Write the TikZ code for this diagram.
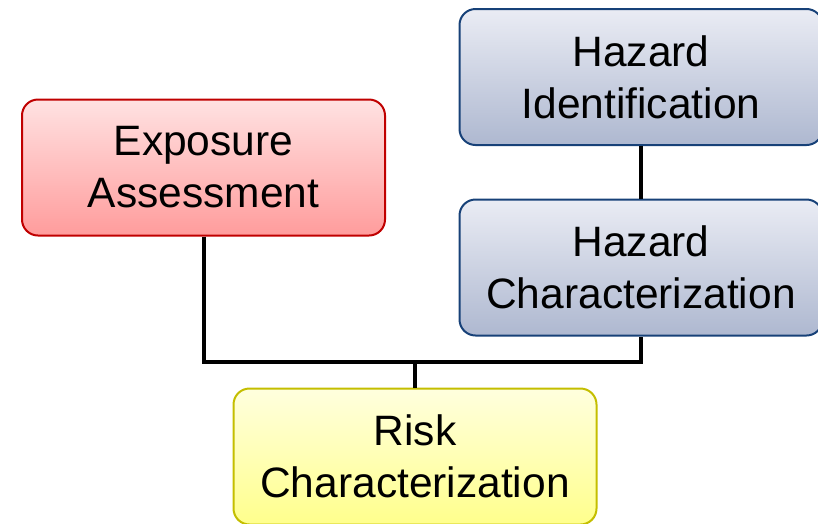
\documentclass[tikz,border=0pt]{standalone}
\usepackage{fontspec}
\setmainfont{Liberation Sans}
\usepackage{tikz}
\usetikzlibrary{calc}

\definecolor{expoline}{RGB}{192,0,0}
\definecolor{expotop}{RGB}{255,226,226}
\definecolor{expobot}{RGB}{255,156,156}
\definecolor{hazline}{RGB}{23,65,120}
\definecolor{haztop}{RGB}{234,236,244}
\definecolor{hazbot}{RGB}{174,184,208}
\definecolor{riskline}{RGB}{196,190,0}
\definecolor{risktop}{RGB}{255,255,222}
\definecolor{riskbot}{RGB}{255,255,140}

\tikzset{
	stagebox/.style={draw, line width=2pt, rounded corners=16pt, align=center,
		minimum width=363pt, minimum height=136pt, inner sep=0pt,
		font=\fontsize{42.5}{52}\selectfont},
	expobox/.style={stagebox, draw=expoline, top color=expotop, bottom color=expobot},
	hazbox/.style={stagebox, draw=hazline, top color=haztop, bottom color=hazbot},
	riskbox/.style={stagebox, draw=riskline, top color=risktop, bottom color=riskbot},
	link/.style={line width=4pt}
}

\begin{document}
\begin{tikzpicture}[x=1pt, y=-1pt]
		%%%%% START %%%%%
		
		\path[use as bounding box, clip] (0, 0) rectangle (818, 523);
		
		\node[expobox] (expo) at (203.5, 167.5) {Exposure\\Assessment};
		\node[hazbox] (hid) at (641, 77) {Hazard\\Identification};
		\node[hazbox] (hchar) at (641, 267.5) {Hazard\\Characterization};
		\node[riskbox] (risk) at (415, 456.5) {Risk\\Characterization};
		
		\coordinate (bus) at (415, 362);
		
		\draw[link] (hid.south) -- (hchar.north);
		\draw[link] (expo.south) |- (bus) -| (hchar.south);
		\draw[link] (bus) -- (risk.north);
		
		%%%%% END %%%%%
	\end{tikzpicture}
\end{document}
